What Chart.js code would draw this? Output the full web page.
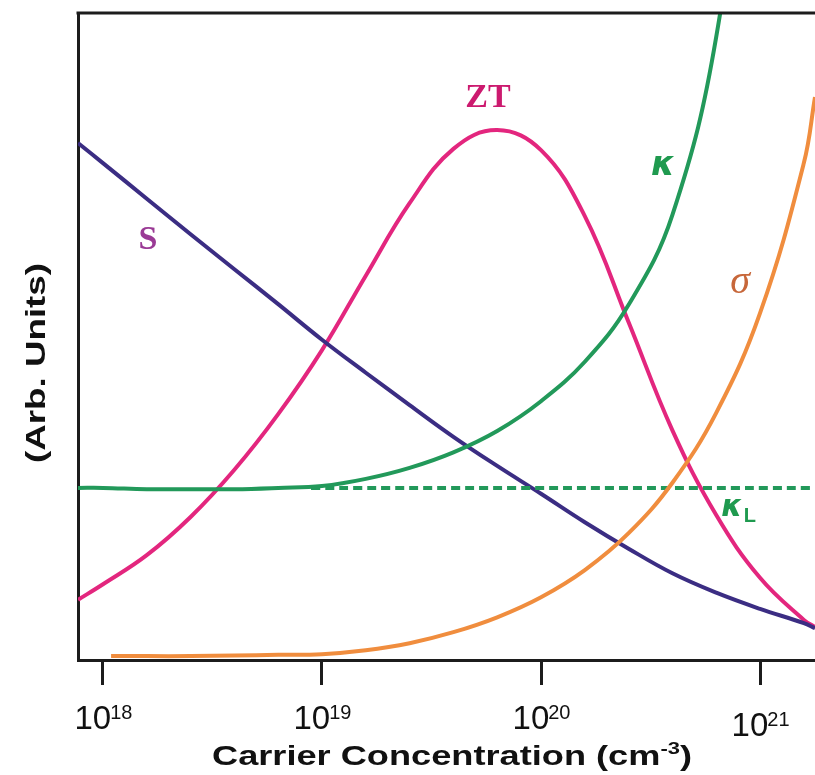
<!DOCTYPE html>
<html>
<head>
<meta charset="utf-8">
<script src="https://cdn.jsdelivr.net/npm/chart.js@4.4.0/dist/chart.umd.min.js"></script>
<style>
body{margin:0;background:#fff;}
#wrap{width:815px;height:775px;}
</style>
</head>
<body>
<div id="wrap"><canvas id="myChart" width="815" height="775"></canvas></div>
<script>
// carrier concentration is kept as log10(n), curves in arbitrary units (0-100)
var tickExp = [18, 19, 20, 21];

var logN = [17.886, 18.0, 18.2, 18.4, 18.6, 18.8, 19.0, 19.2, 19.4, 19.6, 19.8, 20.0, 20.2, 20.4, 20.6, 20.8, 21.0, 21.2, 21.251];

var sVal  = [79.9, 76.8, 71.3, 65.8, 60.4, 55.0, 49.5, 44.4, 39.4, 34.5, 30.0, 25.7, 21.3, 17.2, 13.4, 10.4, 7.9, 5.7, 4.9];
var ztVal = [9.3, 11.7, 16.2, 22.1, 29.4, 38.0, 47.9, 59.4, 70.6, 79.0, 81.9, 78.8, 68.6, 52.2, 35.5, 22.4, 12.7, 6.2, 5.1];
var kVal  = [26.6, 26.6, 26.4, 26.4, 26.4, 26.6, 26.9, 28.0, 29.7, 32.1, 35.4, 40.0, 46.1, 54.9, 68.8, 96.3, 148];

var kLLogN = [18.95, 21.251];
var kLVal  = [26.6, 26.6];

var sigLogN = [18.037, 18.2, 18.4, 18.6, 18.8, 19.0, 19.2, 19.4, 19.6, 19.8, 20.0, 20.2, 20.4, 20.6, 20.8, 21.0, 21.2, 21.251];
var sigVal  = [0.6, 0.6, 0.6, 0.7, 0.8, 0.9, 1.5, 2.6, 4.3, 6.6, 9.7, 13.9, 19.6, 27.4, 38.2, 53.6, 76.8, 87.0];

function pts(logs, vals)
{
    var out = [];
    for (var i = 0; i < vals.length; i++) {
        out.push({x: Math.pow(10, logs[i]), y: vals[i]});
    }
    return out;
}

// curve labels (placed in data units)
var notes = [
    {text: 'S',  lg: 18.205, v: 64.9, font: 'bold 34px "Liberation Serif"', color: '#9a3a95'},
    {text: 'ZT', lg: 19.758, v: 86.9, font: 'bold 34px "Liberation Serif"', color: '#cc1a6f'},
    {text: 'κ',  lg: 20.557, v: 76.4, font: 'italic bold 34px "DejaVu Sans"', color: '#1f9a4f'},
    {text: 'σ',  lg: 20.909, v: 58.4, font: 'italic 40px "Liberation Serif"', color: '#c7673a'},
    {text: 'κ',  lg: 20.872, v: 23.5, font: 'italic bold 30px "DejaVu Sans"', color: '#1f9a4f', sub: 'L'}
];

var axisColor = '#1c1c1c';

function fitText(ctx, parts, x, y, width)
{
    // parts: [text, font, dy]; stretched horizontally to the given width
    var total = 0;
    for (var i in parts) { ctx.font = parts[i][1]; total += ctx.measureText(parts[i][0]).width; }
    var sx = width / total;
    ctx.save();
    ctx.translate(x, y);
    ctx.scale(sx, 1);
    var cx = 0;
    for (var j in parts) {
        ctx.font = parts[j][1];
        ctx.fillText(parts[j][0], cx, parts[j][2]);
        cx += ctx.measureText(parts[j][0]).width;
    }
    ctx.restore();
}

var decor = {
    id: 'decor',
    afterDraw: function(chart) {
        var ctx = chart.ctx;
        var a = chart.chartArea;
        var xs = chart.scales.x, ys = chart.scales.y;
        ctx.save();
        // top frame line
        ctx.strokeStyle = axisColor;
        ctx.lineWidth = 3;
        ctx.beginPath();
        ctx.moveTo(a.left - 1.5, a.top);
        ctx.lineTo(a.right, a.top);
        ctx.stroke();

        // tick labels 10^n
        ctx.fillStyle = '#111';
        ctx.textBaseline = 'alphabetic';
        ctx.textAlign = 'left';
        for (var i in tickExp) {
            var px = xs.getPixelForValue(Math.pow(10, tickExp[i]));
            var dy = (tickExp[i] == 21) ? 7 : 0;
            ctx.font = '33px "Liberation Sans"';
            var w1 = ctx.measureText('10').width;
            ctx.font = '20px "Liberation Sans"';
            var w2 = ctx.measureText(String(tickExp[i])).width;
            var x0 = px - (w1 + w2) / 2 + 1;
            ctx.font = '33px "Liberation Sans"';
            ctx.fillText('10', x0, 729 + dy);
            ctx.font = '20px "Liberation Sans"';
            ctx.fillText(String(tickExp[i]), x0 + w1 - 1, 719 + dy);
        }

        // x title
        fitText(ctx, [
            ['Carrier Concentration (cm', 'bold 28px "Liberation Sans"', 0],
            ['-3', 'bold 17px "Liberation Sans"', -11],
            [')', 'bold 28px "Liberation Sans"', 0]
        ], 212, 765, 480);

        // y title
        ctx.save();
        ctx.translate(45, 363);
        ctx.rotate(-Math.PI / 2);
        fitText(ctx, [['(Arb. Units)', 'bold 28px "Liberation Sans"', 0]], -100, 0, 200);
        ctx.restore();

        // curve labels
        ctx.textAlign = 'center';
        ctx.textBaseline = 'middle';
        for (var k in notes) {
            var n = notes[k];
            var lx = xs.getPixelForValue(Math.pow(10, n.lg));
            var ly = ys.getPixelForValue(n.v);
            ctx.font = n.font;
            ctx.fillStyle = n.color;
            ctx.fillText(n.text, lx, ly);
            if (n.sub) {
                var wk = ctx.measureText(n.text).width;
                ctx.font = 'bold 20px "Liberation Sans"';
                ctx.textAlign = 'left';
                ctx.fillText(n.sub, lx + wk / 2 + 1, ly + 9);
                ctx.textAlign = 'center';
            }
        }
        ctx.restore();
    }
};

function line(data, color, dash)
{
    return {
        data: data,
        borderColor: color,
        borderWidth: 4,
        borderDash: dash || [],
        pointRadius: 0,
        showLine: true,
        fill: false,
        tension: 0.4
    };
}

var ctx = document.getElementById('myChart');
var graph = new Chart(ctx, {
    type: 'scatter',
    data: {
        datasets: [
            line(pts(sigLogN, sigVal), '#f08d3e'),
            line(pts(kLLogN, kLVal), '#22995a', [9, 5]),
            line(pts(logN, kVal), '#22995a'),
            line(pts(logN, sVal), '#3b2d83'),
            line(pts(logN, ztVal), '#e3267e')
        ]
    },
    options: {
        responsive: false,
        animation: false,
        layout: {padding: {top: 13, right: 0, left: 0, bottom: 0}},
        plugins: {legend: {display: false}, tooltip: {enabled: false}},
        scales: {
            x: {
                type: 'logarithmic',
                min: Math.pow(10, 17.886),
                max: Math.pow(10, 21.251),
                afterBuildTicks: function(s) {
                    s.ticks = tickExp.map(function(e){ return {value: Math.pow(10, e)}; });
                },
                afterFit: function(s) { s.height = 115; },
                ticks: {display: false},
                grid: {drawOnChartArea: false, drawTicks: true, tickLength: 25, tickWidth: 3, tickColor: axisColor},
                border: {display: true, width: 3, color: axisColor}
            },
            y: {
                min: 0,
                max: 100,
                afterFit: function(s) { s.width = 78; },
                ticks: {display: false},
                grid: {display: false},
                border: {display: true, width: 3, color: axisColor}
            }
        }
    },
    plugins: [decor]
});
</script>
</body>
</html>
